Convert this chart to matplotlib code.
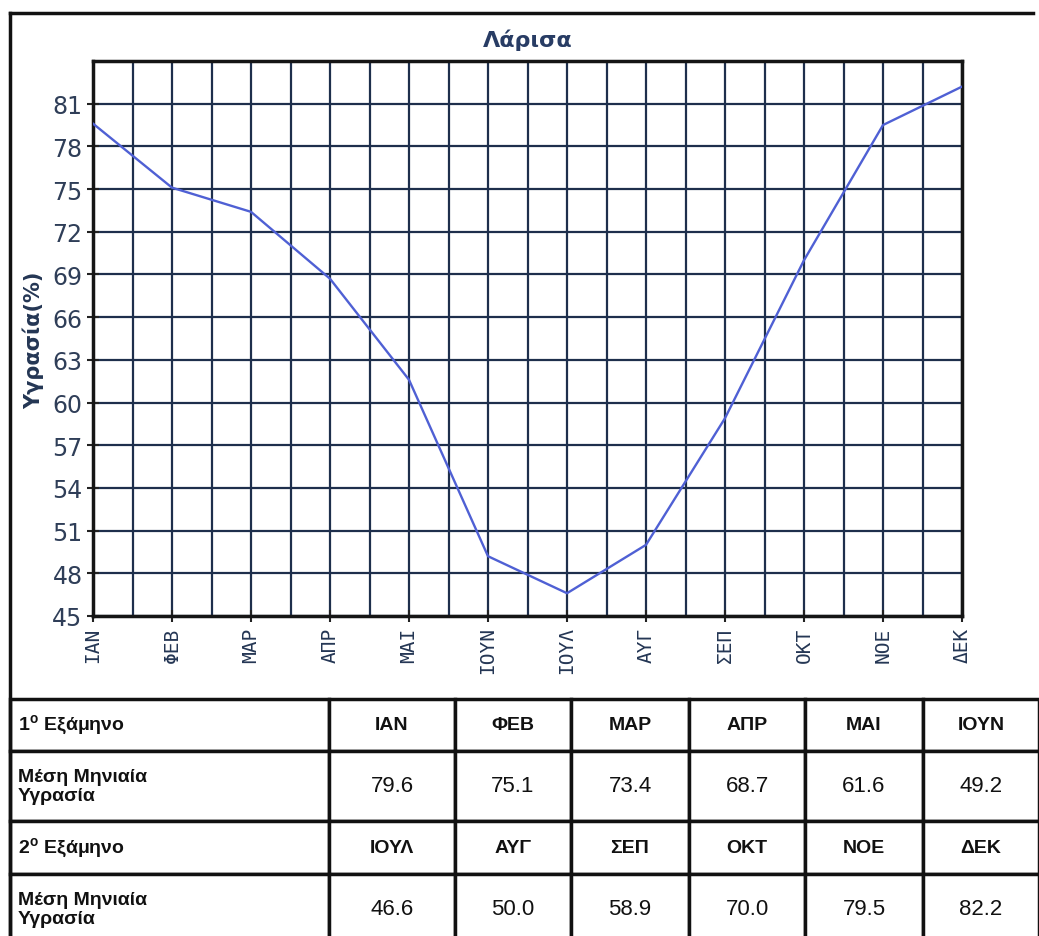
import matplotlib.pyplot as plt
from matplotlib.lines import Line2D

# data
months = ['ΙΑΝ', 'ΦΕΒ', 'ΜΑΡ', 'ΑΠΡ', 'ΜΑΙ', 'ΙΟΥΝ',
          'ΙΟΥΛ', 'ΑΥΓ', 'ΣΕΠ', 'ΟΚΤ', 'ΝΟΕ', 'ΔΕΚ']
humidity = [79.6, 75.1, 73.4, 68.7, 61.6, 49.2,
            46.6, 50.0, 58.9, 70.0, 79.5, 82.2]
yticks = [45, 48, 51, 54, 57, 60, 63, 66, 69, 72, 75, 78, 81]

title = 'Λάρισα'
ylabel = 'Υγρασία(%)'
row_labels = [r'1$^{\mathregular{o}}$ Εξάμηνο', 'Μέση Μηνιαία\nΥγρασία',
              r'2$^{\mathregular{o}}$ Εξάμηνο', 'Μέση Μηνιαία\nΥγρασία']

navy = '#243654'
grid_col = '#1e2f4c'

plt.rcParams['font.family'] = ['DejaVu Sans']

W, H = 1039, 937
fig = plt.figure(figsize=(W / 100, H / 100), dpi=100)

# outer frame lines (left and top)
fig.add_artist(Line2D([10 / W, 10 / W], [0, 1 - 14 / H], color='#111111', lw=2.5))
fig.add_artist(Line2D([10 / W, 1033 / W], [1 - 14 / H, 1 - 14 / H], color='#111111', lw=2.5))

# ---- chart ----
ax = fig.add_axes([93 / W, 1 - 617 / H, (962 - 93) / W, (617 - 62) / H])
x = list(range(len(months)))
ax.plot(x, humidity, color='#4f60d4', lw=1.7, zorder=3)
ax.set_xlim(0, 11)
ax.set_ylim(45, 84)
ax.set_yticks(yticks)
ax.set_yticklabels([str(v) for v in yticks], color='#2f3e58',
                   family=['Liberation Sans Narrow', 'DejaVu Sans'], fontsize=17)
ax.set_xticks(x)
ax.set_xticklabels(months, rotation=90, color=navy, family='DejaVu Sans Mono',
                   fontsize=14)
ax.set_xticks([i + 0.5 for i in range(11)], minor=True)
ax.tick_params(axis='both', which='major', direction='inout', length=9,
               width=1.5, color='#222222', pad=3)
ax.tick_params(axis='x', which='minor', length=0)
ax.grid(True, which='major', color=grid_col, lw=1.6)
ax.grid(True, which='minor', axis='x', color=grid_col, lw=1.6)
for s in ax.spines.values():
    s.set_linewidth(2.5)
    s.set_color('#151515')

fig.text(528 / W, 1 - 40 / H, title, ha='center', va='center', fontsize=16,
         fontweight='bold', color='#283c64')
fig.text(33 / W, 1 - 340 / H, ylabel, ha='center', va='center', rotation=90,
         fontsize=15, fontweight='bold', color=navy)

# ---- table ----
first_half = months[:6]
second_half = months[6:]
cell_text = [
    [row_labels[0]] + first_half,
    [row_labels[1]] + ['%.1f' % v for v in humidity[:6]],
    [row_labels[2]] + second_half,
    [row_labels[3]] + ['%.1f' % v for v in humidity[6:]],
]
col_w = [319, 126, 116, 118, 116, 118, 116]
row_h = [52, 70, 53, 70]

tab_top = 700
tab_bottom = tab_top + sum(row_h)
tax = fig.add_axes([10 / W, 1 - tab_bottom / H, sum(col_w) / W, sum(row_h) / H])
tax.axis('off')
tbl = tax.table(cellText=cell_text, colWidths=[c / sum(col_w) for c in col_w],
                cellLoc='center', bbox=[0, 0, 1, 1])
tbl.auto_set_font_size(False)
for (r, c), cell in tbl.get_celld().items():
    cell.set_height(row_h[r])
    cell.set_linewidth(2.5)
    cell.set_edgecolor('#111111')
    txt = cell.get_text()
    txt.set_family(['Liberation Sans', 'DejaVu Sans'])
    if c == 0:
        cell.PAD = 0.025
        txt.set_ha('left')
        cell._loc = 'left'
        txt.set_fontweight('bold')
        txt.set_fontsize(14)
    elif r % 2 == 0:
        txt.set_fontweight('bold')
        txt.set_fontsize(14)
    else:
        txt.set_fontsize(16)
    txt.set_color('#111111')

fig.savefig('out.png', dpi=100)
